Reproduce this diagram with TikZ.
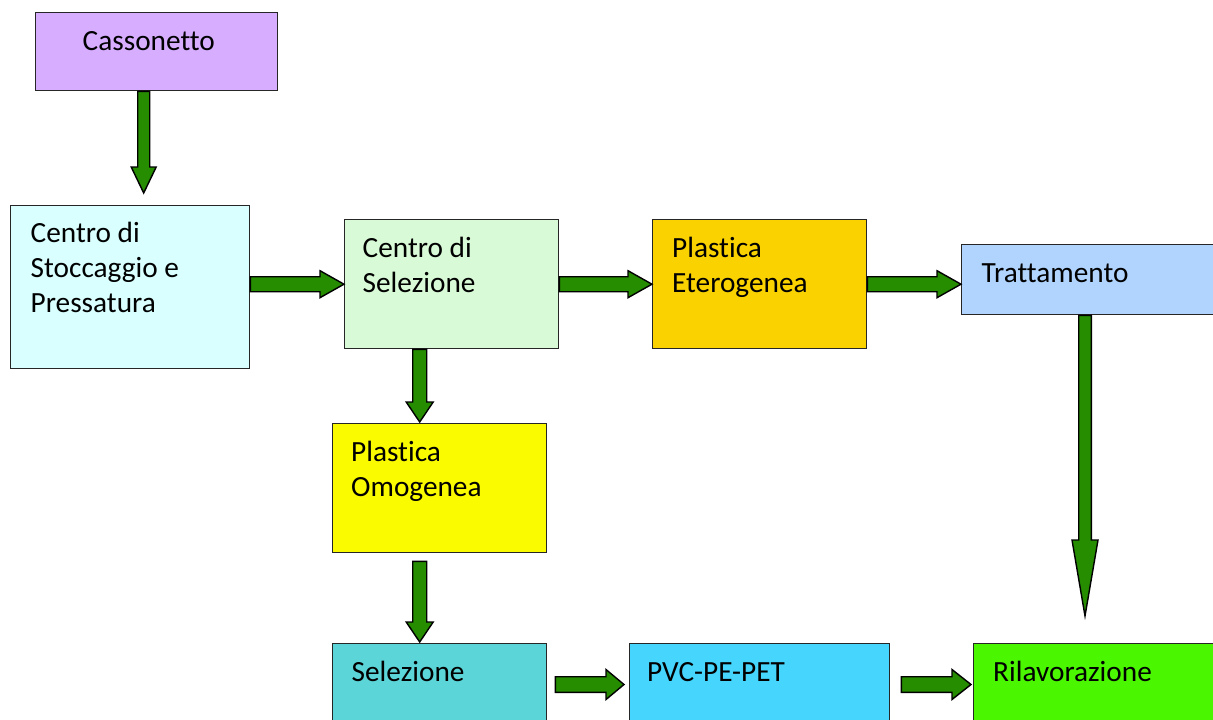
\documentclass[tikz,border=0pt]{standalone}
\usepackage{fontspec}
\setmainfont{Carlito}[Ligatures=NoCommon]
\usetikzlibrary{calc}
\usetikzlibrary{positioning}

\definecolor{cassfill}{HTML}{D7ADFF}
\definecolor{stoccfill}{HTML}{D9FFFF}
\definecolor{selfill}{HTML}{D9FAD6}
\definecolor{eterfill}{HTML}{F9D200}
\definecolor{trattfill}{HTML}{B0D4FE}
\definecolor{omogfill}{HTML}{FBFB00}
\definecolor{selezfill}{HTML}{5BD5D7}
\definecolor{pvcfill}{HTML}{45D5FD}
\definecolor{rilavfill}{HTML}{4AF700}
\definecolor{arrowfill}{HTML}{268C00}

\tikzset{
  box/.style={draw=black!85, line width=1.4pt, rectangle, inner sep=0pt, anchor=north west},
  lbl/.style={anchor=base west, inner sep=0pt, align=left, font=\fontsize{29.3}{35}\selectfont},
  flowarrow/.style={draw=black, line width=1.4pt, fill=arrowfill, line join=miter},
}

% block arrows: start, tip, shaft half width, head half width, head length
\newcommand{\harrow}[5]{%
  \draw[flowarrow] ($(#1)+(0,-#3)$) -- ($(#2)+(-#5,-#3)$) -- ($(#2)+(-#5,-#4)$) -- (#2)
    -- ($(#2)+(-#5,#4)$) -- ($(#2)+(-#5,#3)$) -- ($(#1)+(0,#3)$) -- cycle;}
\newcommand{\varrow}[5]{%
  \draw[flowarrow] ($(#1)+(-#3,0)$) -- ($(#2)+(-#3,-#5)$) -- ($(#2)+(-#4,-#5)$) -- (#2)
    -- ($(#2)+(#4,-#5)$) -- ($(#2)+(#3,-#5)$) -- ($(#1)+(#3,0)$) -- cycle;}

\begin{document}
\begin{tikzpicture}[x=1pt, y=-1pt]
    \useasboundingbox (0,0) rectangle (1213,720);
    \clip (0,0) rectangle (1213,720);

    % boxes
    \node[box, fill=cassfill, minimum width=242, minimum height=78] (cass) at (35,12) {};
    \node[box, fill=stoccfill, minimum width=239, minimum height=163] (stocc) at (10,205) {};
    \node[box, fill=selfill, minimum width=214, minimum height=129] (sel) at (344,219) {};
    \node[box, fill=eterfill, minimum width=214, minimum height=129] (eter) at (652,219) {};
    \node[box, fill=trattfill, minimum width=269, minimum height=70] (tratt) at (961,244) {};
    \node[box, fill=omogfill, minimum width=214, minimum height=129] (omog) at (332,423) {};
    \node[box, fill=selezfill, minimum width=214, minimum height=129] (selez) at (332,643) {};
    \node[box, fill=pvcfill, minimum width=260, minimum height=129] (pvc) at (629,643) {};
    \node[box, fill=rilavfill, minimum width=260, minimum height=129] (rilav) at (973,643) {};

    % texts (base of a multi-line node is its last line)
    \node[lbl] (cassT) at ([shift={(47.5,38.5)}]cass.north west) {Cassonetto};
    \node[lbl] (stoccT) at ([shift={(20.5,107)}]stocc.north west) {Centro di\\Stoccaggio e\\Pressatura};
    \node[lbl] (selT) at ([shift={(18.5,73.5)}]sel.north west) {Centro di\\Selezione};
    \node[lbl] (eterT) at ([shift={(20,73.5)}]eter.north west) {Plastica\\Eterogenea};
    \node[lbl] (trattT) at ([shift={(20.5,38.5)}]tratt.north west) {Trattamento};
    \node[lbl] (omogT) at ([shift={(19,73.5)}]omog.north west) {Plastica\\Omogenea};
    \node[lbl] (selezT) at ([shift={(19.5,38.5)}]selez.north west) {Selezione};
    \node[lbl] (pvcT) at ([shift={(18,38.5)}]pvc.north west) {PVC-PE-PET};
    \node[lbl] (rilavT) at ([shift={(20,38.5)}]rilav.north west) {Rilavorazione};

    % arrow ends
    \coordinate (a1s) at ($(cass.south)+(-13,0)$);
    \coordinate (a1e) at ($(a1s |- stocc.north)+(0,-12)$);
    \coordinate (a2s) at (stocc.east |- sel.west);
    \coordinate (a4e) at (tratt.west |- eter.east);
    \coordinate (a5s) at ($(sel.south)+(-32,0)$);
    \coordinate (a5e) at ($(a5s |- omog.north)+(0,-1)$);
    \coordinate (a6s) at ($(omog.south)+(-20,8)$);
    \coordinate (a6e) at ($(a6s |- selez.north)+(0,-1)$);
    \coordinate (a7s) at ($(tratt.south west)+(124,0)$);
    \coordinate (a7e) at ($(a7s |- rilav.north)+(0,-27)$);
    \coordinate (a8s) at ($(selez.north east)+(8,41.5)$);
    \coordinate (a8e) at ($(a8s -| pvc.west)+(-5,0)$);
    \coordinate (a9s) at ($(pvc.north east)+(11,41.5)$);
    \coordinate (a9e) at ($(a9s -| rilav.west)+(-2,0)$);

    % arrows
    \varrow{a1s}{a1e}{6}{12.5}{26}
    \harrow{a2s}{sel.west}{7.5}{13.5}{24}
    \harrow{sel.east}{eter.west}{7.5}{13.5}{24}
    \harrow{eter.east}{a4e}{7.5}{13.5}{24}
    \varrow{a5s}{a5e}{7}{13.5}{20}
    \varrow{a6s}{a6e}{7}{13.5}{20}
    \varrow{a7s}{a7e}{6.3}{13}{76}
    \harrow{a8s}{a8e}{7.8}{15}{18}
    \harrow{a9s}{a9e}{7.8}{15}{19}
\end{tikzpicture}
\end{document}
